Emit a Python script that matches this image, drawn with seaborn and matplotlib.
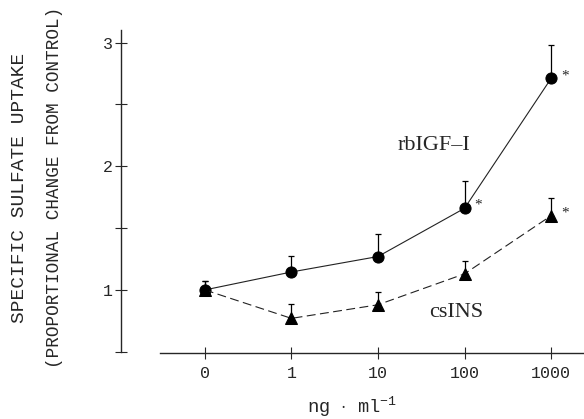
import matplotlib
matplotlib.use("Agg")
import matplotlib.pyplot as plt
import numpy as np
import pandas as pd
import seaborn as sns

# --- data ---
doses = ["0", "1", "10", "100", "1000"]
igf_mean = [1.00, 1.145, 1.27, 1.66, 2.71]
igf_err = [0.07, 0.13, 0.18, 0.22, 0.27]
ins_mean = [1.00, 0.77, 0.88, 1.13, 1.60]
ins_err = [0.07, 0.12, 0.10, 0.10, 0.14]
igf_sig = [False, False, False, True, True]
ins_sig = [False, False, False, False, True]

pos = np.arange(len(doses))
df = pd.DataFrame({
    "pos": np.concatenate([pos, pos]),
    "value": igf_mean + ins_mean,
    "series": ["rbIGF-I"] * 5 + ["csINS"] * 5,
})

sns.set_style("ticks")
plt.rcParams["font.family"] = ["Liberation Serif", "DejaVu Serif"]
plt.rcParams["mathtext.fontset"] = "custom"
plt.rcParams["mathtext.rm"] = "Liberation Mono"
plt.rcParams["mathtext.it"] = "Liberation Mono"

fig = plt.figure(figsize=(5.84, 4.19), dpi=100)
ax = fig.add_axes([0.207, 0.1575, 0.793, 0.7705])

sns.lineplot(data=df, x="pos", y="value", hue="series", style="series",
             markers={"rbIGF-I": "o", "csINS": "^"},
             dashes={"rbIGF-I": "", "csINS": (8, 4)},
             palette={"rbIGF-I": "#222222", "csINS": "#222222"},
             linewidth=0.8, markersize=8, markeredgecolor="black",
             ax=ax, legend=False)
for ln in ax.lines:
    ln.set_markerfacecolor("black")

# one-sided error bars (upper only)
for mean, err in [(igf_mean, igf_err), (ins_mean, ins_err)]:
    ax.errorbar(pos, mean, yerr=[np.zeros(len(err)), err], fmt="none",
                ecolor="black", elinewidth=0.9, capsize=2.2, capthick=0.9)

# significance stars
for mean, sig in [(igf_mean, igf_sig), (ins_mean, ins_sig)]:
    for p, m, s in zip(pos, mean, sig):
        if s:
            ax.annotate("*", (p, m), xytext=(7, 2), textcoords="offset points",
                        fontsize=11, ha="left", va="center")

ax.text(2.65, 2.17, "rbIGF–I", fontsize=16, ha="center", va="center")
ax.text(2.90, 0.82, "csINS", fontsize=16, ha="center", va="center")

ax.set_xlim(-0.97, 4.38)
ax.set_ylim(0.49, 3.1)
ax.set_xticks(pos)
ax.set_xticklabels(doses, fontsize=12, family="Liberation Mono")
ax.set_yticks([1, 2, 3])
ax.set_yticklabels(["1", "2", "3"], fontsize=12, family="Liberation Mono")
ax.set_yticks([0.5, 1.5, 2.5], minor=True)
ax.tick_params(axis="both", which="both", direction="inout", length=8,
               width=0.8, pad=5)
ax.tick_params(axis="y", which="major", pad=2)

for side in ["top", "right"]:
    ax.spines[side].set_visible(False)
ax.spines["left"].set_bounds(0.5, 3.1)
ax.spines["bottom"].set_bounds(-0.52, 4.38)
ax.spines["left"].set_linewidth(1.0)
ax.spines["bottom"].set_linewidth(1.0)

ax.set_xlabel(r"ng $\cdot$ ml$^{-1}$", fontsize=13.5, labelpad=10,
              family="Liberation Mono")
ax.set_ylabel("")

fig.text(0.034, 0.552, "SPECIFIC SULFATE UPTAKE", rotation=90,
         ha="center", va="center", fontsize=14, family="Liberation Mono")
fig.text(0.094, 0.552, "(PROPORTIONAL CHANGE FROM CONTROL)", rotation=90,
         ha="center", va="center", fontsize=12.7, family="Liberation Mono")

fig.savefig("out.png", dpi=100)
